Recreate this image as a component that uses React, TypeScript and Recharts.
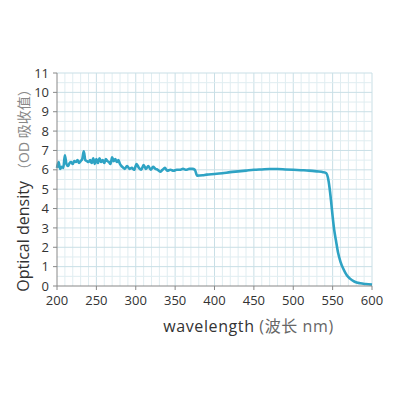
import React from "react";
import { LineChart, Line, XAxis, YAxis, ReferenceLine, Label } from "recharts";

// 波长 (nm)
const wavelength = [
  200, 202, 204, 206, 208, 210, 212, 214, 216, 218, 220, 222, 224, 226, 228, 230,
  232, 234, 236, 238, 240, 242, 244, 246, 248, 250, 252, 254, 256, 258, 260, 262,
  264, 266, 268, 270, 272, 274, 276, 278, 280, 283, 286, 289, 292, 295, 298, 301,
  304, 307, 310, 313, 316, 319, 322, 325, 328, 331, 334, 337, 340, 344, 348, 352,
  356, 360, 364, 368, 372, 375, 378, 385, 390, 400, 410, 420, 430, 440, 450, 460,
  470, 480, 490, 500, 510, 520, 530, 538, 542, 544, 546, 548, 550, 552, 554, 557,
  560, 564, 568, 572, 578, 585, 592, 600,
];

// OD 吸收值
const opticalDensity = [
  6.1, 6.4, 6.05, 6.15, 6.1, 6.75, 6.3, 6.2, 6.35, 6.4, 6.3, 6.45, 6.4, 6.5, 6.35, 6.45,
  6.55, 6.95, 6.5, 6.45, 6.4, 6.5, 6.35, 6.6, 6.3, 6.55, 6.35, 6.6, 6.4, 6.5, 6.35, 6.55,
  6.45, 6.4, 6.3, 6.65, 6.45, 6.55, 6.4, 6.5, 6.3, 6.15, 6.05, 6.2, 6.05, 6.1, 6.0, 6.3,
  6.1, 6.0, 6.25, 6.05, 6.2, 6.0, 6.15, 6.05, 6.0, 5.9, 6.0, 6.1, 5.95, 6.0, 5.95, 6.0,
  6.0, 6.05, 6.0, 6.05, 6.05, 6.0, 5.7, 5.72, 5.75, 5.78, 5.82, 5.88, 5.92, 5.96, 6.0, 6.02,
  6.04, 6.04, 6.02, 6.0, 5.98, 5.96, 5.92, 5.88, 5.82, 5.6, 5.1, 4.4, 3.6, 2.9, 2.4, 1.7,
  1.25, 0.85, 0.55, 0.38, 0.22, 0.14, 0.1, 0.07,
];

const xTicks = [200, 250, 300, 350, 400, 450, 500, 550, 600];
const yTicks = [0, 1, 2, 3, 4, 5, 6, 7, 8, 9, 10, 11];

const data = wavelength.map((w, i) => ({ w, od: opticalDensity[i] }));

// 细网格
const minorX: number[] = [];
for (let v = 210; v <= 600; v += 10) minorX.push(v);
const minorY: number[] = [];
for (let v = 0.5; v <= 11; v += 0.5) minorY.push(v);

const FONT = "'Open Sans', 'Noto Sans CJK SC', sans-serif";

function XTitle(props: any) {
  const vb = props.viewBox;
  return (
    <text
      x={vb.x + vb.width / 2 + 34}
      y={332}
      textAnchor="middle"
      fontFamily={FONT}
      fontSize={16}
      fill="#333"
      letterSpacing={0.6}
    >
      wavelength <tspan fill="#666">(波长 nm)</tspan>
    </text>
  );
}

function YTitle() {
  return (
    <text
      transform="translate(29,187) rotate(-90)"
      textAnchor="middle"
      fontFamily={FONT}
      fontSize={16}
      fill="#333"
    >
      Optical density <tspan fill="#888" fontSize={14}>（OD 吸收值）</tspan>
    </text>
  );
}

export default function App() {
  return (
    <div style={{ position: "absolute", left: 0, top: 0, background: "#fff" }}>
      <LineChart
        width={400}
        height={400}
        data={data}
        margin={{ top: 73, right: 28, bottom: 84, left: 0 }}
      >
        {minorX.map((v) => (
          <ReferenceLine
            key={"x" + v}
            x={v}
            stroke={v % 50 === 0 ? "#c9dfe6" : "#e0edf1"}
            strokeWidth={1}
          />
        ))}
        {minorY.map((v) => (
          <ReferenceLine
            key={"y" + v}
            y={v}
            stroke={v % 1 === 0 ? "#c9dfe6" : "#e0edf1"}
            strokeWidth={1}
          />
        ))}
        <XAxis
          dataKey="w"
          type="number"
          domain={[200, 600]}
          ticks={xTicks}
          interval={0}
          height={30}
          stroke="#888"
          tickSize={4}
          tick={{ fill: "#333", fontSize: 13, fontFamily: FONT }}
          tickMargin={6}
        >
          <Label content={XTitle} />
        </XAxis>
        <YAxis
          type="number"
          domain={[0, 11]}
          ticks={yTicks}
          interval={0}
          width={57}
          stroke="#888"
          tickSize={4}
          tick={{ fill: "#333", fontSize: 13, fontFamily: FONT }}
          tickMargin={4}
        >
          <Label content={YTitle} />
        </YAxis>
        <Line
          dataKey="od"
          type="monotone"
          stroke="#2ea3c4"
          strokeWidth={2.6}
          dot={false}
          isAnimationActive={false}
        />
      </LineChart>
    </div>
  );
}
